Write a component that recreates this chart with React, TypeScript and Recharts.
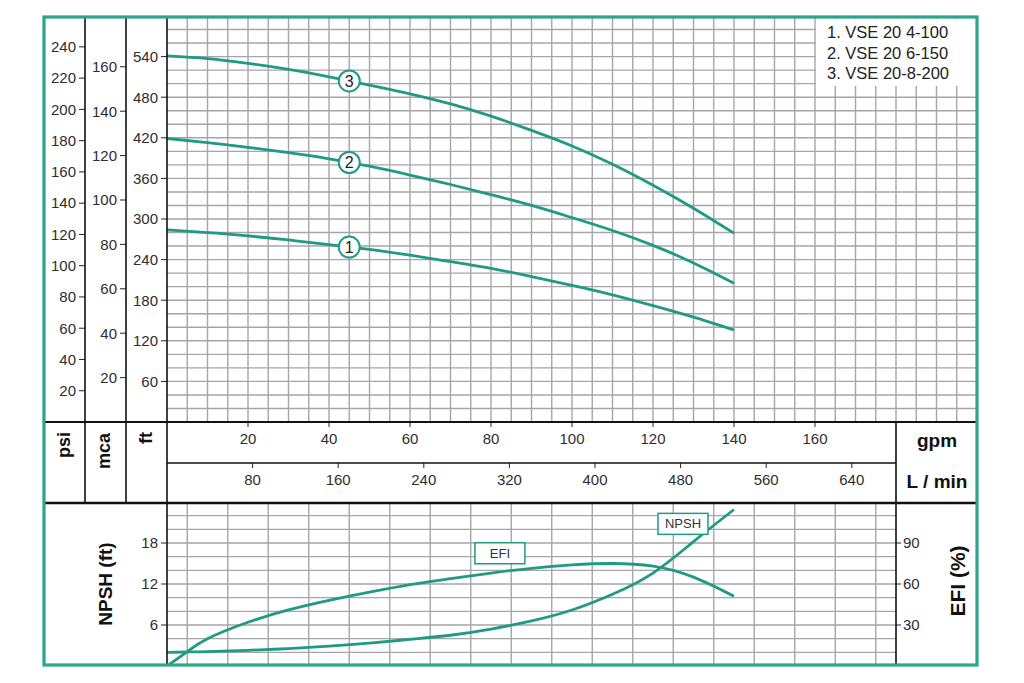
import React from 'react'
import { ComposedChart, Line, XAxis, YAxis, CartesianGrid, ReferenceDot } from 'recharts'

// flow (gpm) and head (ft) for each pump model
const flowGpm = [0, 10, 20, 30, 40, 45, 50, 60, 70, 80, 90, 100, 110, 120, 130, 140]
const headVse4 = [284, 280, 275, 269, 262, 258.5, 255, 246.5, 237, 227, 215, 202, 188, 172, 155, 136]
const headVse6 = [419, 413, 406, 398, 389, 383.5, 378, 365, 351, 336, 320, 302, 283, 261, 235, 205]
const headVse8 = [541, 537, 530, 521, 510, 504, 498, 485, 470, 452, 431, 408, 381, 350, 316, 279]

// efficiency (%) and NPSH (ft)
const flowLow = [0, 5, 10, 20, 30, 40, 50, 60, 70, 80, 90, 100, 110, 120, 130, 140]
const efficiency = [0, 10.5, 20, 32, 41, 48, 54, 59.5, 64, 68, 71.5, 74, 75, 73, 65, 51]
const npshFt = [2.0, 2.05, 2.1, 2.3, 2.55, 2.9, 3.35, 3.9, 4.5, 5.4, 6.6, 8.2, 10.5, 13.6, 18.2, 22.9]

const models = ['1. VSE 20 4-100', '2. VSE 20 6-150', '3. VSE 20-8-200']

const gpmTicks = [20, 40, 60, 80, 100, 120, 140, 160]
const lminTicks = [80, 160, 240, 320, 400, 480, 560, 640]
const ftTicks = [60, 120, 180, 240, 300, 360, 420, 480, 540]
const mcaTicks = [20, 40, 60, 80, 100, 120, 140, 160]
const psiTicks = [20, 40, 60, 80, 100, 120, 140, 160, 180, 200, 220, 240]
const npshTicks = [6, 12, 18]
const efiTicks = [30, 60, 90]

const FT_MAX = 600
const GPM_MAX = 200
const LOW_GPM_MAX = 180
const L_PER_GAL = 3.785

const gridGpm = Array.from({ length: 39 }, (_, i) => (i + 1) * 5)
const gridFt = Array.from({ length: 29 }, (_, i) => (i + 1) * 20)
const gridNpsh = Array.from({ length: 11 }, (_, i) => (i + 1) * 2)

const TEAL = '#1f9a83'
const BORDER = '#2ba68b'
const GRID = '#a6a6a6'
const INK = '#2e2e2e'
const FONT = '"Liberation Sans", Arial, sans-serif'

const rows = (ys: number[]) => flowGpm.map((g, i) => ({ gpm: g, lmin: g * L_PER_GAL, ft: ys[i] }))
const curve1 = rows(headVse4)
const curve2 = rows(headVse6)
const curve3 = rows(headVse8)
const lowRows = flowLow.map((g, i) => ({ gpm: g, efi: efficiency[i], npsh: npshFt[i] }))

const tickStyle = { fill: INK, fontSize: 15, fontFamily: FONT }
const lineStyle = { stroke: '#222' }

function TagBox({ cx, cy, text, w }: any) {
  return (
    <g>
      <rect x={cx - w / 2} y={cy - 10.5} width={w} height={21} fill="#fff" stroke={TEAL} strokeWidth={1.5} />
      <text x={cx} y={cy + 1} textAnchor="middle" dominantBaseline="middle" fontSize={13} fontFamily={FONT} fill="#333">
        {text}
      </text>
    </g>
  )
}

const numLabel = (v: string) => ({ value: v, position: 'center' as const, fontSize: 16, fill: '#222', fontFamily: FONT })

export default function App() {
  return (
    <div style={{ position: 'absolute', left: 0, top: 0, width: 1024, height: 683, background: '#fff', fontFamily: FONT }}>
      <div style={{ position: 'absolute', left: 46, top: 16 }}>
        <ComposedChart width={931} height={487} margin={{ top: 0, right: 0, bottom: 0, left: 0 }}>
          <CartesianGrid xAxisId="gpm" yAxisId="ft" stroke={GRID} strokeWidth={1.4} verticalValues={gridGpm} horizontalValues={gridFt} />
          <XAxis xAxisId="gpm" dataKey="gpm" type="number" domain={[0, GPM_MAX]} ticks={gpmTicks} interval={0}
            height={41} axisLine={false} tickSize={5} tickMargin={6} tick={tickStyle} tickLine={lineStyle} allowDataOverflow />
          <XAxis xAxisId="lmin" dataKey="lmin" type="number" domain={[0, GPM_MAX * L_PER_GAL]} ticks={lminTicks} interval={0}
            height={40} axisLine={false} tickSize={5} tickMargin={6} tick={tickStyle} tickLine={lineStyle} allowDataOverflow />
          <YAxis yAxisId="ft" type="number" domain={[0, FT_MAX]} ticks={ftTicks} interval={0} width={41}
            axisLine={false} tickSize={6} tickMargin={3} tick={tickStyle} tickLine={lineStyle} allowDataOverflow />
          <YAxis yAxisId="mca" type="number" domain={[0, FT_MAX / 3.281]} ticks={mcaTicks} interval={0} width={41}
            axisLine={false} tickSize={6} tickMargin={3} tick={tickStyle} tickLine={lineStyle} allowDataOverflow />
          <YAxis yAxisId="psi" type="number" domain={[0, FT_MAX / 2.31]} ticks={psiTicks} interval={0} width={39}
            axisLine={false} tickSize={6} tickMargin={3} tick={tickStyle} tickLine={lineStyle} allowDataOverflow />
          {/* same curve on the L/min axis, kept invisible so that axis gets its scale */}
          <Line data={curve1} xAxisId="lmin" yAxisId="ft" dataKey="ft" type="natural" stroke="none" dot={false} isAnimationActive={false} />
          <Line data={curve1} xAxisId="gpm" yAxisId="ft" dataKey="ft" type="natural" stroke={TEAL} strokeWidth={2.8} dot={false} isAnimationActive={false} />
          <Line data={curve2} xAxisId="gpm" yAxisId="ft" dataKey="ft" type="natural" stroke={TEAL} strokeWidth={2.8} dot={false} isAnimationActive={false} />
          <Line data={curve3} xAxisId="gpm" yAxisId="ft" dataKey="ft" type="natural" stroke={TEAL} strokeWidth={2.8} dot={false} isAnimationActive={false} />
          <ReferenceDot xAxisId="gpm" yAxisId="ft" x={45} y={headVse4[5]} r={10.5} fill="#fff" stroke={TEAL} strokeWidth={2} label={numLabel('1')} />
          <ReferenceDot xAxisId="gpm" yAxisId="ft" x={45} y={headVse6[5]} r={10.5} fill="#fff" stroke={TEAL} strokeWidth={2} label={numLabel('2')} />
          <ReferenceDot xAxisId="gpm" yAxisId="ft" x={45} y={headVse8[5]} r={10.5} fill="#fff" stroke={TEAL} strokeWidth={2} label={numLabel('3')} />
        </ComposedChart>
      </div>

      <div style={{ position: 'absolute', left: 46, top: 502 }}>
        <ComposedChart width={931} height={164} margin={{ top: 0, right: 0, bottom: 0, left: 0 }}>
          <CartesianGrid xAxisId="x" yAxisId="npsh" stroke={GRID} strokeWidth={1.4} verticalValues={gridGpm.filter((v) => v < LOW_GPM_MAX)} horizontalValues={gridNpsh} />
          <XAxis xAxisId="x" dataKey="gpm" type="number" domain={[0, LOW_GPM_MAX]} hide allowDataOverflow />
          <YAxis yAxisId="npsh" type="number" domain={[0, 24]} ticks={npshTicks} interval={0} width={121}
            axisLine={false} tickSize={6} tickMargin={3} tick={tickStyle} tickLine={lineStyle} allowDataOverflow
            label={{ value: 'NPSH (ft)', angle: -90, position: 'center', dx: -1, fontSize: 19, fontWeight: 'bold', fill: '#111', fontFamily: FONT }} />
          <YAxis yAxisId="efi" orientation="right" type="number" domain={[0, 120]} ticks={efiTicks} interval={0} width={81}
            axisLine={false} tickSize={5} tickMargin={2} tick={tickStyle} tickLine={lineStyle} allowDataOverflow
            label={{ value: 'EFI (%)', angle: -90, position: 'center', dx: 21, dy: -3, fontSize: 21, fontWeight: 'bold', fill: '#111', fontFamily: FONT }} />
          <Line data={lowRows} xAxisId="x" yAxisId="efi" dataKey="efi" type="natural" stroke={TEAL} strokeWidth={2.8} dot={false} isAnimationActive={false} />
          <Line data={lowRows} xAxisId="x" yAxisId="npsh" dataKey="npsh" type="natural" stroke={TEAL} strokeWidth={2.8} dot={false} isAnimationActive={false} />
          <ReferenceDot xAxisId="x" yAxisId="npsh" x={82.2} y={16.5} r={1} shape={(p: any) => <TagBox cx={p.cx} cy={p.cy} text="EFI" w={50} />} />
          <ReferenceDot xAxisId="x" yAxisId="npsh" x={127.4} y={20.8} r={1} shape={(p: any) => <TagBox cx={p.cx} cy={p.cy} text="NPSH" w={50} />} />
        </ComposedChart>
      </div>

      <div style={{ position: 'absolute', left: 816, top: 19, width: 160, height: 67, background: '#fff', paddingTop: 3, boxSizing: 'border-box' }}>
        {models.map((m) => (
          <div key={m} style={{ marginLeft: 11, fontSize: 16.5, lineHeight: '20.5px', color: '#222', fontFamily: FONT, whiteSpace: 'nowrap' }}>{m}</div>
        ))}
      </div>

      <svg width={1024} height={683} style={{ position: 'absolute', left: 0, top: 0, pointerEvents: 'none' }}>
        <g stroke="#111" strokeWidth={1.6}>
          <line x1={85} y1={17} x2={85} y2={503} />
          <line x1={126} y1={17} x2={126} y2={503} />
          <line x1={167} y1={17} x2={167} y2={665} />
          <line x1={44} y1={422} x2={977} y2={422} strokeWidth={2} />
          <line x1={167} y1={463} x2={896} y2={463} />
          <line x1={896} y1={422} x2={896} y2={665} />
          <line x1={44} y1={503} x2={977} y2={503} strokeWidth={2.4} />
        </g>
        <g fontFamily={FONT} fontWeight="bold" fill="#111">
          <text x={65} y={432} fontSize={18} textAnchor="end" dominantBaseline="middle" transform="rotate(-90 65 432)">psi</text>
          <text x={105} y={433} fontSize={18} textAnchor="end" dominantBaseline="middle" transform="rotate(-90 105 433)">mca</text>
          <text x={147} y={432} fontSize={18} textAnchor="end" dominantBaseline="middle" transform="rotate(-90 147 432)">ft</text>
          <text x={937} y={442} fontSize={19} textAnchor="middle" dominantBaseline="middle">gpm</text>
          <text x={937} y={483} fontSize={19} textAnchor="middle" dominantBaseline="middle">L / min</text>
        </g>
        <rect x={44} y={17} width={933} height={648} fill="none" stroke={BORDER} strokeWidth={3.2} />
      </svg>
    </div>
  )
}
